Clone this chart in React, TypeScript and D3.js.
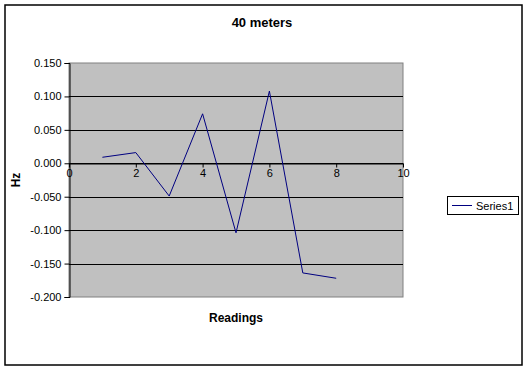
import { useRef, useEffect } from 'react';
import * as d3 from 'd3';

const readings = [1, 2, 3, 4, 5, 6, 7, 8];
const hzValues = [0.009, 0.016, -0.049, 0.074, -0.104, 0.108, -0.164, -0.172];
const yTicks = [0.15, 0.1, 0.05, 0, -0.05, -0.1, -0.15, -0.2];
const xTicks = [0, 2, 4, 6, 8, 10];
const seriesName = 'Series1';

const W = 528;
const H = 370;
const PLOT = { left: 69, right: 403, top: 63, bottom: 297 };
const FONT = 'Arial, "Liberation Sans", sans-serif';

export default function App() {
  const svgRef = useRef<SVGSVGElement>(null);

  useEffect(() => {
    const svg = svgRef.current;
    if (!svg) return;
    const root = d3.select(svg);
    root.selectAll('*').remove();

    const x = d3.scaleLinear().domain([0, 10]).range([PLOT.left, PLOT.right]);
    const y = d3.scaleLinear().domain([-0.2, 0.15]).range([PLOT.bottom, PLOT.top]);

    // outer frame
    root.append('rect').attr('x', 5).attr('y', 5).attr('width', 517).attr('height', 360)
      .attr('fill', '#fff').attr('stroke', '#000').attr('stroke-width', 1.5);

    // plot area
    root.append('rect').attr('x', PLOT.left).attr('y', PLOT.top)
      .attr('width', PLOT.right - PLOT.left).attr('height', PLOT.bottom - PLOT.top)
      .attr('fill', '#c0c0c0').attr('stroke', '#808080').attr('stroke-width', 1);

    // gridlines
    yTicks.filter(t => t !== 0.15 && t !== -0.2).forEach(t => {
      root.append('line').attr('x1', PLOT.left).attr('x2', PLOT.right)
        .attr('y1', Math.round(y(t)) + 0.5).attr('y2', Math.round(y(t)) + 0.5)
        .attr('stroke', '#000').attr('stroke-width', 1);
    });

    // y axis
    const yAxis = d3.axisLeft(y).tickValues(yTicks).tickSize(5).tickPadding(3)
      .tickFormat(d => d3.format('.3f')(d as number).replace('−', '-'));
    const yG = root.append('g').attr('transform', `translate(${PLOT.left + 0.5},0)`).call(yAxis);
    yG.select('.domain').attr('stroke', '#000');
    yG.selectAll('line').attr('stroke', '#000');
    yG.selectAll('text').attr('font-family', FONT).attr('font-size', '11px').attr('fill', '#000');

    // x axis on zero line
    const xAxis = d3.axisBottom(x).tickValues(xTicks).tickSize(4).tickPadding(2).tickSizeOuter(0);
    const xG = root.append('g').attr('transform', `translate(0,${Math.round(y(0)) + 0.5})`).call(xAxis);
    xG.select('.domain').attr('stroke', '#000');
    xG.selectAll('line').attr('stroke', '#000');
    xG.selectAll('text').attr('font-family', FONT).attr('font-size', '11px').attr('fill', '#000');

    // series line
    const line = d3.line<number>().x((_, i) => x(readings[i])).y(d => y(d));
    root.append('path').datum(hzValues).attr('d', line)
      .attr('fill', 'none').attr('stroke', '#000080').attr('stroke-width', 1);

    // title & axis labels
    root.append('text').attr('x', 262).attr('y', 27).attr('text-anchor', 'middle')
      .attr('font-family', FONT).attr('font-size', '13px').attr('font-weight', 'bold').text('40 meters');
    root.append('text').attr('x', (PLOT.left + PLOT.right) / 2).attr('y', 322).attr('text-anchor', 'middle')
      .attr('font-family', FONT).attr('font-size', '12px').attr('font-weight', 'bold').text('Readings');
    root.append('text').attr('transform', `translate(20,${(PLOT.top + PLOT.bottom) / 2}) rotate(-90)`)
      .attr('text-anchor', 'middle').attr('font-family', FONT).attr('font-size', '12px')
      .attr('font-weight', 'bold').text('Hz');

    // legend
    const lg = root.append('g');
    lg.append('rect').attr('x', 447.5).attr('y', 196.5).attr('width', 71).attr('height', 18)
      .attr('fill', '#fff').attr('stroke', '#000').attr('stroke-width', 1);
    lg.append('line').attr('x1', 452).attr('x2', 472).attr('y1', 205.5).attr('y2', 205.5)
      .attr('stroke', '#000080').attr('stroke-width', 1);
    lg.append('text').attr('x', 476).attr('y', 210).attr('font-family', FONT).attr('font-size', '11px')
      .text(seriesName);
  }, []);

  return (
    <svg ref={svgRef} width={W} height={H}
      style={{ position: 'absolute', left: 0, top: 0, display: 'block' }} />
  );
}
